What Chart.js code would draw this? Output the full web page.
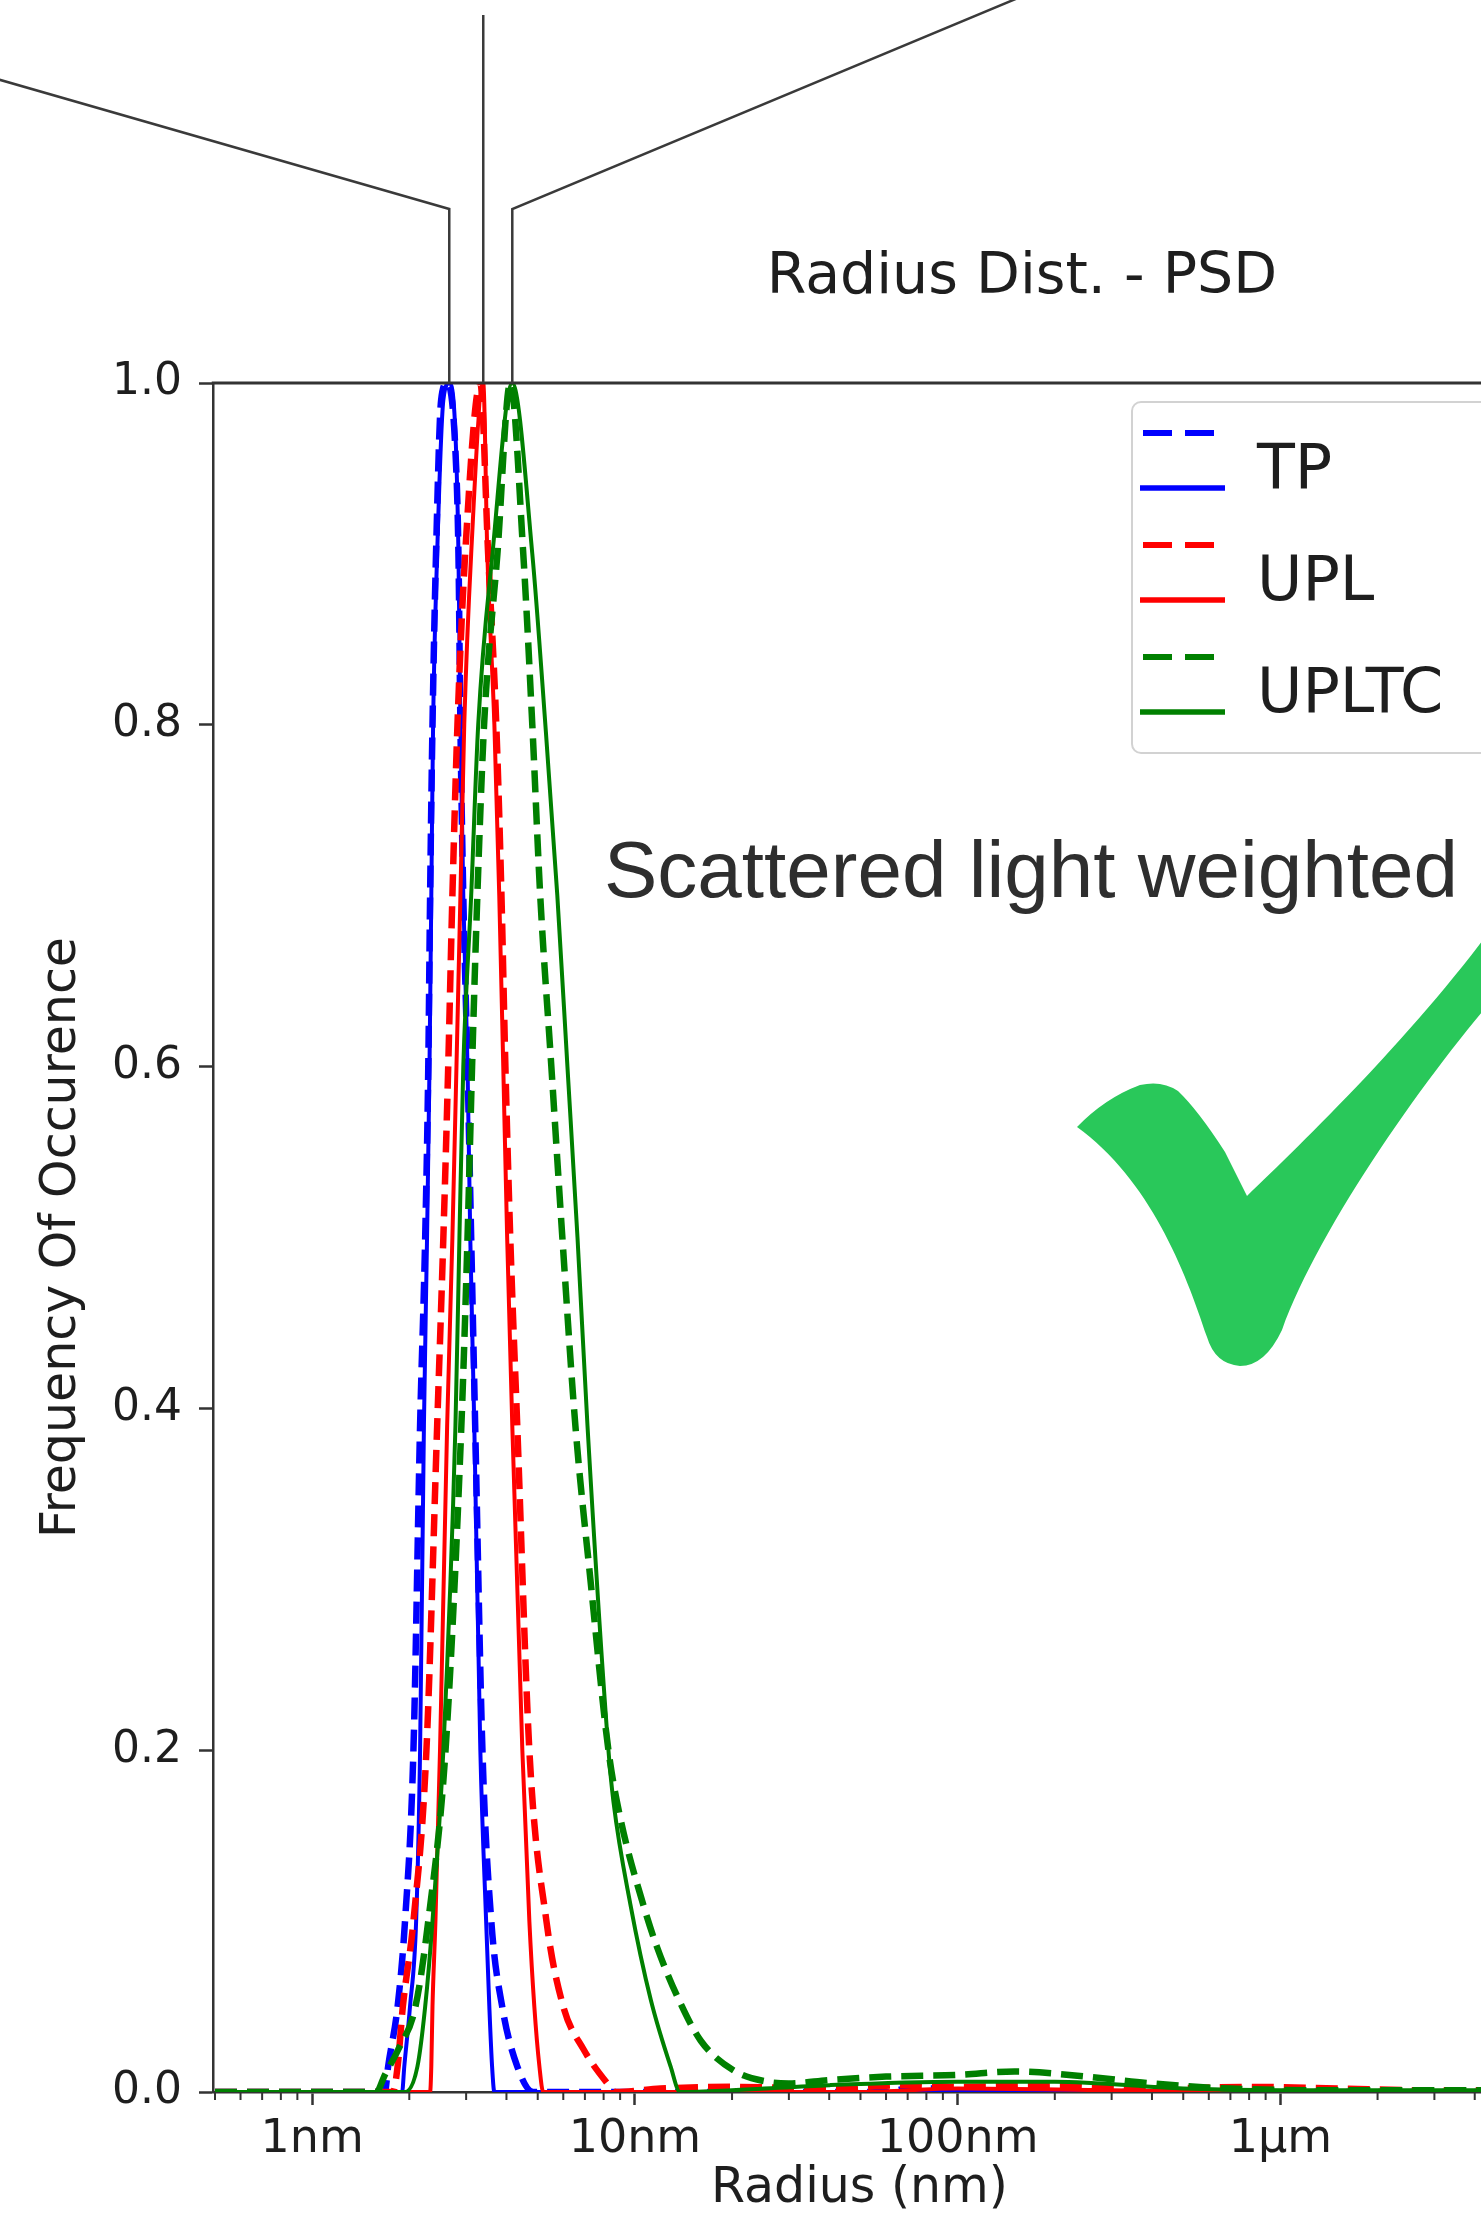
<!DOCTYPE html>
<html>
<head>
<meta charset="utf-8">
<script src="https://cdn.jsdelivr.net/npm/chart.js@4.4.1/dist/chart.umd.min.js"></script>
<style>
html, body { margin: 0; padding: 0; background: #fff; overflow: hidden; width: 1481px; height: 2227px; }
#wrap { position: absolute; left: 0; top: 0; width: 1510px; height: 2227px; }
canvas { display: block; }
</style>
</head>
<body>
<div id="wrap"><canvas id="c" width="1510" height="2227"></canvas></div>
<script>
// ---------- axis settings / tick labels ----------
const xMin = 0.493, xMax = 5000;
const xTickValues = [1, 10, 100, 1000];
const xTickLabels = ['1nm', '10nm', '100nm', '1µm'];
const yTickValues = [0, 0.2, 0.4, 0.6, 0.8, 1.0];
const yTickLabels = ['0.0', '0.2', '0.4', '0.6', '0.8', '1.0'];
const seriesNames = ['TP', 'UPL', 'UPLTC'];

// ---------- data (radius in nm, frequency of occurence) ----------
const tpDashedR = [0.5, 1.68, 1.72, 1.84, 1.94, 2.06, 2.16, 2.24, 2.29, 2.32, 2.36, 2.42, 2.51, 2.62, 2.78, 2.84, 2.88, 2.94, 3.03, 3.11, 3.20, 3.37, 3.59, 3.88, 4.32, 4.84, 60, 70, 90, 100, 5000];
const tpDashedF = [0, 0, 0.015, 0.05, 0.10, 0.20, 0.39, 0.50, 0.60, 0.70, 0.80, 0.90, 0.99, 1.00, 0.96, 0.90, 0.80, 0.70, 0.60, 0.50, 0.39, 0.20, 0.10, 0.05, 0.015, 0, 0, 0.002, 0.002, 0, 0];

const tpSolidR = [0.5, 1.90, 1.93, 2.01, 2.10, 2.16, 2.22, 2.27, 2.31, 2.34, 2.37, 2.44, 2.55, 2.66, 2.78, 2.84, 2.88, 2.94, 3.03, 3.09, 3.18, 3.32, 3.46, 3.54, 3.61, 3.67, 5000];
const tpSolidF = [0, 0, 0.015, 0.05, 0.10, 0.20, 0.39, 0.50, 0.60, 0.70, 0.80, 0.90, 0.99, 1.00, 0.97, 0.90, 0.80, 0.70, 0.60, 0.50, 0.39, 0.20, 0.10, 0.05, 0.015, 0, 0];

const uplDashedR = [0.5, 1.78, 1.84, 1.91, 2.06, 2.26, 2.44, 2.55, 2.64, 2.72, 2.82, 2.98, 3.32, 3.51, 3.72, 3.86, 3.97, 4.11, 4.32, 4.71, 5.32, 6.00, 6.93, 8.22, 8.70, 12, 20, 40, 70, 100, 200, 400, 800, 1500, 3000, 5000];
const uplDashedF = [0, 0, 0.015, 0.05, 0.10, 0.20, 0.39, 0.50, 0.60, 0.70, 0.80, 0.90, 1.00, 0.90, 0.80, 0.70, 0.60, 0.50, 0.39, 0.20, 0.10, 0.05, 0.025, 0.005, 0, 0.002, 0.003, 0.002, 0.004, 0.003, 0.004, 0.002, 0.003, 0.002, 0.001, 0.001];

const uplSolidR = [0.5, 2.32, 2.34, 2.36, 2.41, 2.49, 2.62, 2.72, 2.80, 2.88, 2.96, 3.11, 3.39, 3.49, 3.67, 3.80, 3.91, 4.02, 4.17, 4.48, 4.71, 4.88, 5.06, 5.20, 50, 100, 300, 1000, 5000];
const uplSolidF = [0, 0, 0.015, 0.05, 0.10, 0.20, 0.39, 0.50, 0.60, 0.70, 0.80, 0.90, 1.00, 0.90, 0.80, 0.70, 0.60, 0.50, 0.39, 0.20, 0.10, 0.05, 0.015, 0, 0, 0.002, 0.001, 0, 0];

const upltcDashedR = [0.5, 1.58, 1.68, 1.85, 2.09, 2.29, 2.59, 2.90, 3.03, 3.13, 3.25, 3.41, 3.75, 4.11, 4.51, 4.81, 5.09, 5.51, 5.96, 6.54, 7.28, 8.28, 9.02, 10.6, 11.7, 13.6, 16.0, 20.5, 25.8, 30, 40, 60, 100, 150, 250, 400, 700, 1500, 5000];
const upltcDashedF = [0, 0, 0.01, 0.025, 0.05, 0.10, 0.20, 0.39, 0.50, 0.60, 0.70, 0.80, 0.90, 1.00, 0.90, 0.80, 0.70, 0.60, 0.50, 0.39, 0.30, 0.20, 0.16, 0.11, 0.085, 0.055, 0.03, 0.012, 0.006, 0.005, 0.007, 0.009, 0.010, 0.012, 0.009, 0.005, 0.002, 0.001, 0.001];

const upltcSolidR = [0.5, 1.94, 2.12, 2.24, 2.36, 2.55, 2.78, 2.86, 2.94, 3.11, 3.27, 3.62, 4.17, 4.81, 5.28, 5.75, 6.18, 6.64, 7.13, 8.28, 8.58, 9.68, 11.2, 12.9, 13.8, 20, 40, 100, 200, 500, 1000, 5000];
const upltcSolidF = [0, 0, 0.015, 0.05, 0.10, 0.20, 0.39, 0.50, 0.60, 0.70, 0.80, 0.90, 1.00, 0.90, 0.80, 0.70, 0.60, 0.50, 0.39, 0.20, 0.17, 0.11, 0.054, 0.015, 0, 0.001, 0.004, 0.006, 0.006, 0.002, 0.001, 0.001];

// ---------- styling ----------
const BLUE = '#0000ff', RED = '#ff0000', GREEN = '#008000';
const seriesColors = [BLUE, RED, GREEN];
const AXIS = '#333333', TEXT = '#1e1e1e';
Chart.defaults.font.family = '"DejaVu Sans"';

const pts = (r, f) => r.map((v, i) => ({ x: v, y: f[i] }));
function ds(label, r, f, color, dashed, order) {
  return {
    label, data: pts(r, f), borderColor: color, backgroundColor: color,
    borderWidth: dashed ? 6.5 : 4, borderDash: dashed ? [22, 10] : [],
    pointRadius: 0, pointHoverRadius: 0, fill: false,
    cubicInterpolationMode: 'monotone', order
  };
}

function argmaxR(r, f) {
  let bi = 0;
  f.forEach((v, i) => { if (v > f[bi]) bi = i; });
  return r[bi];
}
const peakRadii = [argmaxR(tpSolidR, tpSolidF), argmaxR(uplSolidR, uplSolidF), argmaxR(upltcSolidR, upltcSolidF)];

const overlay = {
  id: 'overlay',
  afterDraw(chart) {
    const { ctx, chartArea: a, scales } = chart;
    const xs = scales.x;
    ctx.save();

    // top spine
    ctx.strokeStyle = AXIS; ctx.lineWidth = 2.8; ctx.setLineDash([]);
    ctx.beginPath(); ctx.moveTo(a.left - 1.25, a.top); ctx.lineTo(chart.width, a.top); ctx.stroke();

    // minor log ticks
    ctx.lineWidth = 2;
    for (let e = -1; e <= 3; e++) {
      for (let m = 2; m <= 9; m++) {
        const v = m * Math.pow(10, e);
        if (v < xs.min || v > xs.max) continue;
        const px = xs.getPixelForValue(v);
        ctx.beginPath(); ctx.moveTo(px, a.bottom); ctx.lineTo(px, a.bottom + 8); ctx.stroke();
      }
    }

    // callout lines from the peaks
    const p = peakRadii.map(r => xs.getPixelForValue(r));
    ctx.strokeStyle = '#3a3a3a'; ctx.lineWidth = 2.5; ctx.lineJoin = 'miter';
    ctx.beginPath(); ctx.moveTo(p[0], a.top); ctx.lineTo(p[0], 209); ctx.lineTo(-10, 77); ctx.stroke();
    ctx.beginPath(); ctx.moveTo(p[1], a.top); ctx.lineTo(p[1], 15); ctx.stroke();
    ctx.beginPath(); ctx.moveTo(p[2], a.top); ctx.lineTo(p[2], 209); ctx.lineTo(1018, -2); ctx.stroke();

    // title
    ctx.fillStyle = TEXT;
    ctx.font = '57px "DejaVu Sans"';
    ctx.textAlign = 'center'; ctx.textBaseline = 'alphabetic';
    ctx.fillText('Radius Dist. - PSD', 1022, 293);

    // legend
    ctx.beginPath();
    ctx.roundRect(1132, 402, 420, 351, 9);
    ctx.fillStyle = 'rgba(255,255,255,0.85)'; ctx.fill();
    ctx.strokeStyle = '#d2d2d2'; ctx.lineWidth = 2; ctx.stroke();
    ctx.font = '62px "DejaVu Sans"'; ctx.textAlign = 'left';
    seriesNames.forEach((name, i) => {
      const base = 488 + i * 112;
      ctx.strokeStyle = seriesColors[i]; ctx.lineWidth = 6; ctx.lineCap = 'butt';
      ctx.setLineDash([29, 13]);
      ctx.beginPath(); ctx.moveTo(1143, base - 55); ctx.lineTo(1225, base - 55); ctx.stroke();
      ctx.setLineDash([]);
      ctx.lineWidth = 5.5;
      ctx.beginPath(); ctx.moveTo(1140, base); ctx.lineTo(1225, base); ctx.stroke();
      ctx.fillStyle = TEXT;
      ctx.fillText(name, 1257, base);
    });

    // annotation text
    ctx.fillStyle = '#2e2e2e';
    ctx.font = '80px "Liberation Sans", Arial, sans-serif';
    ctx.textAlign = 'left';
    ctx.fillText('Scattered light weighted', 604, 897);

    // check mark
    ctx.fillStyle = '#29c85a';
    ctx.beginPath();
    ctx.moveTo(1077, 1127);
    ctx.quadraticCurveTo(1105, 1098, 1140, 1085);
    ctx.quadraticCurveTo(1162, 1080, 1178, 1091);
    ctx.quadraticCurveTo(1198, 1110, 1225, 1152);
    ctx.lineTo(1247, 1196);
    ctx.bezierCurveTo(1300, 1145, 1420, 1030, 1505, 910);
    ctx.lineTo(1505, 985);
    ctx.bezierCurveTo(1430, 1070, 1320, 1225, 1282, 1330);
    ctx.quadraticCurveTo(1265, 1366, 1240, 1366);
    ctx.quadraticCurveTo(1215, 1364, 1207, 1337);
    ctx.bezierCurveTo(1185, 1270, 1150, 1180, 1077, 1127);
    ctx.closePath();
    ctx.fill();

    ctx.restore();
  }
};

new Chart(document.getElementById('c'), {
  type: 'line',
  data: {
    datasets: [
      ds(seriesNames[0] + ' (dashed)', tpDashedR, tpDashedF, BLUE, true, 6),
      ds(seriesNames[0], tpSolidR, tpSolidF, BLUE, false, 5),
      ds(seriesNames[1] + ' (dashed)', uplDashedR, uplDashedF, RED, true, 4),
      ds(seriesNames[1], uplSolidR, uplSolidF, RED, false, 3),
      ds(seriesNames[2] + ' (dashed)', upltcDashedR, upltcDashedF, GREEN, true, 2),
      ds(seriesNames[2], upltcSolidR, upltcSolidF, GREEN, false, 1)
    ]
  },
  options: {
    responsive: false,
    animation: false,
    events: [],
    layout: { padding: { top: 383, right: 4, bottom: 0, left: 0 } },
    plugins: { legend: { display: false }, tooltip: { enabled: false }, title: { display: false } },
    scales: {
      x: {
        type: 'logarithmic', min: xMin, max: xMax,
        afterBuildTicks: s => { s.ticks = xTickValues.map(v => ({ value: v })); },
        afterFit: s => { s.height = 135; },
        ticks: {
          callback: v => { const i = xTickValues.indexOf(v); return i >= 0 ? xTickLabels[i] : ''; },
          font: { size: 46 }, color: TEXT, padding: 7, maxRotation: 0, autoSkip: false
        },
        grid: { drawOnChartArea: false, tickLength: 13, tickWidth: 2.5, tickColor: AXIS },
        border: { color: AXIS, width: 2.5 },
        title: { display: true, text: 'Radius (nm)', font: { size: 49 }, color: TEXT, padding: { top: 0, bottom: 8 } }
      },
      y: {
        min: 0, max: 1,
        afterBuildTicks: s => { s.ticks = yTickValues.map(v => ({ value: v })); },
        afterFit: s => { s.width = 213; },
        ticks: {
          callback: v => { const i = yTickValues.findIndex(t => Math.abs(t - v) < 1e-9); return i >= 0 ? yTickLabels[i] : ''; },
          font: { size: 44 }, color: TEXT, padding: 17
        },
        grid: { drawOnChartArea: false, tickLength: 14, tickWidth: 2.5, tickColor: AXIS },
        border: { color: AXIS, width: 2.5 },
        title: { display: true, text: 'Frequency Of Occurence', font: { size: 49 }, color: TEXT, padding: { top: 33, bottom: 0 } }
      }
    }
  },
  plugins: [overlay]
});
</script>
</body>
</html>
